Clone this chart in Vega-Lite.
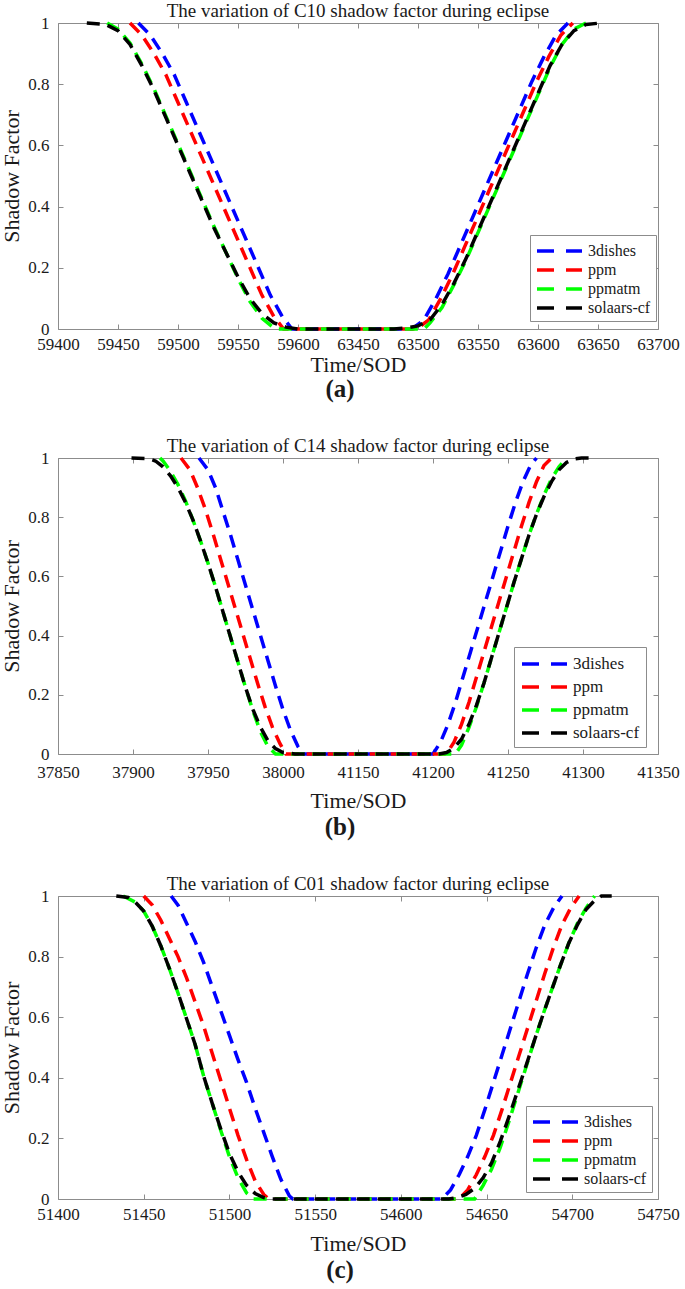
{
"$schema": "https://vega.github.io/schema/vega-lite/v6.json",
"background": "white",
"padding": {"left": 0, "top": 1, "right": 4, "bottom": 2},
"config": {
  "font": "Liberation Serif",
  "view": {"stroke": "#8c8c8c", "strokeWidth": 1},
  "axis": {"grid": false, "domain": false, "tickColor": "#8c8c8c", "tickSize": -5, "labelFont": "Liberation Serif", "labelFontSize": 17, "labelColor": "#1a1a1a", "titleFont": "Liberation Serif", "titleFontSize": 22, "titleFontWeight": "normal", "titleColor": "#1a1a1a", "labelFlush": false, "labelOverlap": false},
  "axisX": {"labelPadding": 12, "titlePadding": 2},
  "axisY": {"labelPadding": 14, "titlePadding": 4},
  "title": {"font": "Liberation Serif", "fontSize": 19, "fontWeight": "normal", "color": "#1a1a1a", "offset": -7},
  "legend": {"orient": "none", "title": null, "fillColor": "white", "strokeColor": "#8c8c8c", "padding": 4, "symbolType": "M-1,0H4", "symbolStrokeWidth": 3.5, "symbolDash": [17, 12], "symbolSize": 324, "labelFont": "Liberation Serif", "labelFontSize": 16, "labelColor": "#1a1a1a", "labelOffset": 31, "rowPadding": -1, "symbolOffset": 0}
},
"datasets": {
"a": [
{"m":"3dishes","t":59467,"s":1},{"m":"3dishes","t":59477,"s":0.96},{"m":"3dishes","t":59487,"s":0.9},{"m":"3dishes","t":59497,"s":0.83},{"m":"3dishes","t":59507,"s":0.74},{"m":"3dishes","t":59517,"s":0.65},{"m":"3dishes","t":59527,"s":0.56},{"m":"3dishes","t":59537,"s":0.47},{"m":"3dishes","t":59547,"s":0.38},{"m":"3dishes","t":59557,"s":0.29},{"m":"3dishes","t":59567,"s":0.2},{"m":"3dishes","t":59577,"s":0.11},{"m":"3dishes","t":59587,"s":0.04},{"m":"3dishes","t":59595,"s":0},{"m":"3dishes","t":63450,"s":0},{"m":"3dishes","t":63495,"s":0},{"m":"3dishes","t":63505,"s":0.03},{"m":"3dishes","t":63515,"s":0.1},{"m":"3dishes","t":63525,"s":0.18},{"m":"3dishes","t":63535,"s":0.27},{"m":"3dishes","t":63545,"s":0.36},{"m":"3dishes","t":63555,"s":0.45},{"m":"3dishes","t":63565,"s":0.54},{"m":"3dishes","t":63575,"s":0.63},{"m":"3dishes","t":63585,"s":0.72},{"m":"3dishes","t":63595,"s":0.81},{"m":"3dishes","t":63605,"s":0.89},{"m":"3dishes","t":63615,"s":0.96},{"m":"3dishes","t":63625,"s":1},
{"m":"ppm","t":59460,"s":1},{"m":"ppm","t":59470,"s":0.96},{"m":"ppm","t":59480,"s":0.9},{"m":"ppm","t":59490,"s":0.83},{"m":"ppm","t":59500,"s":0.74},{"m":"ppm","t":59510,"s":0.65},{"m":"ppm","t":59520,"s":0.56},{"m":"ppm","t":59530,"s":0.47},{"m":"ppm","t":59540,"s":0.38},{"m":"ppm","t":59550,"s":0.29},{"m":"ppm","t":59560,"s":0.2},{"m":"ppm","t":59570,"s":0.11},{"m":"ppm","t":59580,"s":0.04},{"m":"ppm","t":59588,"s":0},{"m":"ppm","t":63450,"s":0},{"m":"ppm","t":63499,"s":0},{"m":"ppm","t":63509,"s":0.03},{"m":"ppm","t":63519,"s":0.1},{"m":"ppm","t":63529,"s":0.18},{"m":"ppm","t":63539,"s":0.27},{"m":"ppm","t":63549,"s":0.36},{"m":"ppm","t":63559,"s":0.45},{"m":"ppm","t":63569,"s":0.54},{"m":"ppm","t":63579,"s":0.63},{"m":"ppm","t":63589,"s":0.72},{"m":"ppm","t":63599,"s":0.81},{"m":"ppm","t":63609,"s":0.89},{"m":"ppm","t":63619,"s":0.96},{"m":"ppm","t":63629,"s":1},
{"m":"ppmatm","t":59441,"s":1},{"m":"ppmatm","t":59450,"s":0.98},{"m":"ppmatm","t":59460,"s":0.935},{"m":"ppmatm","t":59470,"s":0.865},{"m":"ppmatm","t":59480,"s":0.785},{"m":"ppmatm","t":59490,"s":0.695},{"m":"ppmatm","t":59500,"s":0.605},{"m":"ppmatm","t":59510,"s":0.515},{"m":"ppmatm","t":59520,"s":0.425},{"m":"ppmatm","t":59530,"s":0.335},{"m":"ppmatm","t":59540,"s":0.25},{"m":"ppmatm","t":59550,"s":0.165},{"m":"ppmatm","t":59560,"s":0.09},{"m":"ppmatm","t":59570,"s":0.035},{"m":"ppmatm","t":59580,"s":0.003},{"m":"ppmatm","t":59583,"s":0},{"m":"ppmatm","t":63450,"s":0},{"m":"ppmatm","t":63505,"s":0},{"m":"ppmatm","t":63510,"s":0.02},{"m":"ppmatm","t":63520,"s":0.07},{"m":"ppmatm","t":63530,"s":0.145},{"m":"ppmatm","t":63540,"s":0.225},{"m":"ppmatm","t":63550,"s":0.315},{"m":"ppmatm","t":63560,"s":0.405},{"m":"ppmatm","t":63570,"s":0.495},{"m":"ppmatm","t":63580,"s":0.585},{"m":"ppmatm","t":63590,"s":0.675},{"m":"ppmatm","t":63600,"s":0.765},{"m":"ppmatm","t":63610,"s":0.855},{"m":"ppmatm","t":63620,"s":0.93},{"m":"ppmatm","t":63630,"s":0.98},{"m":"ppmatm","t":63640,"s":1},
{"m":"solaars-cf","t":59424,"s":1},{"m":"solaars-cf","t":59440,"s":0.995},{"m":"solaars-cf","t":59450,"s":0.975},{"m":"solaars-cf","t":59460,"s":0.93},{"m":"solaars-cf","t":59470,"s":0.86},{"m":"solaars-cf","t":59480,"s":0.78},{"m":"solaars-cf","t":59490,"s":0.69},{"m":"solaars-cf","t":59500,"s":0.6},{"m":"solaars-cf","t":59510,"s":0.51},{"m":"solaars-cf","t":59520,"s":0.42},{"m":"solaars-cf","t":59530,"s":0.33},{"m":"solaars-cf","t":59540,"s":0.25},{"m":"solaars-cf","t":59550,"s":0.17},{"m":"solaars-cf","t":59560,"s":0.1},{"m":"solaars-cf","t":59570,"s":0.05},{"m":"solaars-cf","t":59580,"s":0.02},{"m":"solaars-cf","t":59590,"s":0.006},{"m":"solaars-cf","t":59600,"s":0},{"m":"solaars-cf","t":63450,"s":0},{"m":"solaars-cf","t":63480,"s":0},{"m":"solaars-cf","t":63490,"s":0.003},{"m":"solaars-cf","t":63500,"s":0.01},{"m":"solaars-cf","t":63510,"s":0.03},{"m":"solaars-cf","t":63520,"s":0.08},{"m":"solaars-cf","t":63530,"s":0.15},{"m":"solaars-cf","t":63540,"s":0.23},{"m":"solaars-cf","t":63550,"s":0.32},{"m":"solaars-cf","t":63560,"s":0.41},{"m":"solaars-cf","t":63570,"s":0.5},{"m":"solaars-cf","t":63580,"s":0.59},{"m":"solaars-cf","t":63590,"s":0.68},{"m":"solaars-cf","t":63600,"s":0.77},{"m":"solaars-cf","t":63610,"s":0.86},{"m":"solaars-cf","t":63620,"s":0.93},{"m":"solaars-cf","t":63630,"s":0.975},{"m":"solaars-cf","t":63640,"s":0.995},{"m":"solaars-cf","t":63652,"s":1}
],
"b": [
{"m":"3dishes","t":37944,"s":1},{"m":"3dishes","t":37950,"s":0.96},{"m":"3dishes","t":37955,"s":0.9},{"m":"3dishes","t":37960,"s":0.82},{"m":"3dishes","t":37965,"s":0.74},{"m":"3dishes","t":37970,"s":0.655},{"m":"3dishes","t":37975,"s":0.57},{"m":"3dishes","t":37980,"s":0.485},{"m":"3dishes","t":37985,"s":0.4},{"m":"3dishes","t":37990,"s":0.315},{"m":"3dishes","t":37995,"s":0.23},{"m":"3dishes","t":38000,"s":0.15},{"m":"3dishes","t":38005,"s":0.08},{"m":"3dishes","t":38010,"s":0.025},{"m":"3dishes","t":38014,"s":0},{"m":"3dishes","t":41150,"s":0},{"m":"3dishes","t":41200,"s":0},{"m":"3dishes","t":41205,"s":0.04},{"m":"3dishes","t":41210,"s":0.1},{"m":"3dishes","t":41215,"s":0.175},{"m":"3dishes","t":41220,"s":0.26},{"m":"3dishes","t":41225,"s":0.345},{"m":"3dishes","t":41230,"s":0.43},{"m":"3dishes","t":41235,"s":0.515},{"m":"3dishes","t":41240,"s":0.6},{"m":"3dishes","t":41245,"s":0.685},{"m":"3dishes","t":41250,"s":0.77},{"m":"3dishes","t":41255,"s":0.85},{"m":"3dishes","t":41260,"s":0.92},{"m":"3dishes","t":41265,"s":0.975},{"m":"3dishes","t":41269,"s":1},
{"m":"ppm","t":37932,"s":1},{"m":"ppm","t":37938,"s":0.96},{"m":"ppm","t":37943,"s":0.9},{"m":"ppm","t":37948,"s":0.83},{"m":"ppm","t":37953,"s":0.75},{"m":"ppm","t":37958,"s":0.665},{"m":"ppm","t":37963,"s":0.58},{"m":"ppm","t":37968,"s":0.495},{"m":"ppm","t":37973,"s":0.41},{"m":"ppm","t":37978,"s":0.325},{"m":"ppm","t":37983,"s":0.24},{"m":"ppm","t":37988,"s":0.16},{"m":"ppm","t":37993,"s":0.09},{"m":"ppm","t":37998,"s":0.035},{"m":"ppm","t":38002,"s":0},{"m":"ppm","t":41150,"s":0},{"m":"ppm","t":41209,"s":0},{"m":"ppm","t":41214,"s":0.04},{"m":"ppm","t":41219,"s":0.1},{"m":"ppm","t":41224,"s":0.175},{"m":"ppm","t":41229,"s":0.26},{"m":"ppm","t":41234,"s":0.345},{"m":"ppm","t":41239,"s":0.43},{"m":"ppm","t":41244,"s":0.515},{"m":"ppm","t":41249,"s":0.6},{"m":"ppm","t":41254,"s":0.685},{"m":"ppm","t":41259,"s":0.77},{"m":"ppm","t":41264,"s":0.85},{"m":"ppm","t":41269,"s":0.92},{"m":"ppm","t":41274,"s":0.975},{"m":"ppm","t":41279,"s":1},
{"m":"ppmatm","t":37918,"s":1},{"m":"ppmatm","t":37920,"s":0.99},{"m":"ppmatm","t":37925,"s":0.955},{"m":"ppmatm","t":37930,"s":0.91},{"m":"ppmatm","t":37935,"s":0.855},{"m":"ppmatm","t":37940,"s":0.79},{"m":"ppmatm","t":37945,"s":0.72},{"m":"ppmatm","t":37950,"s":0.645},{"m":"ppmatm","t":37955,"s":0.565},{"m":"ppmatm","t":37960,"s":0.48},{"m":"ppmatm","t":37965,"s":0.395},{"m":"ppmatm","t":37970,"s":0.31},{"m":"ppmatm","t":37975,"s":0.225},{"m":"ppmatm","t":37980,"s":0.145},{"m":"ppmatm","t":37985,"s":0.075},{"m":"ppmatm","t":37990,"s":0.025},{"m":"ppmatm","t":37995,"s":0},{"m":"ppmatm","t":41150,"s":0},{"m":"ppmatm","t":41215,"s":0},{"m":"ppmatm","t":41219,"s":0.03},{"m":"ppmatm","t":41224,"s":0.09},{"m":"ppmatm","t":41229,"s":0.16},{"m":"ppmatm","t":41234,"s":0.24},{"m":"ppmatm","t":41239,"s":0.325},{"m":"ppmatm","t":41244,"s":0.41},{"m":"ppmatm","t":41249,"s":0.495},{"m":"ppmatm","t":41254,"s":0.58},{"m":"ppmatm","t":41259,"s":0.66},{"m":"ppmatm","t":41264,"s":0.74},{"m":"ppmatm","t":41269,"s":0.81},{"m":"ppmatm","t":41274,"s":0.875},{"m":"ppmatm","t":41279,"s":0.93},{"m":"ppmatm","t":41284,"s":0.97},{"m":"ppmatm","t":41289,"s":1},
{"m":"solaars-cf","t":37899,"s":1},{"m":"solaars-cf","t":37910,"s":0.998},{"m":"solaars-cf","t":37915,"s":0.99},{"m":"solaars-cf","t":37920,"s":0.97},{"m":"solaars-cf","t":37925,"s":0.94},{"m":"solaars-cf","t":37930,"s":0.9},{"m":"solaars-cf","t":37935,"s":0.85},{"m":"solaars-cf","t":37940,"s":0.79},{"m":"solaars-cf","t":37945,"s":0.72},{"m":"solaars-cf","t":37950,"s":0.645},{"m":"solaars-cf","t":37955,"s":0.565},{"m":"solaars-cf","t":37960,"s":0.48},{"m":"solaars-cf","t":37965,"s":0.395},{"m":"solaars-cf","t":37970,"s":0.31},{"m":"solaars-cf","t":37975,"s":0.225},{"m":"solaars-cf","t":37980,"s":0.15},{"m":"solaars-cf","t":37985,"s":0.09},{"m":"solaars-cf","t":37990,"s":0.045},{"m":"solaars-cf","t":37995,"s":0.018},{"m":"solaars-cf","t":38000,"s":0.005},{"m":"solaars-cf","t":38008,"s":0},{"m":"solaars-cf","t":41150,"s":0},{"m":"solaars-cf","t":41204,"s":0},{"m":"solaars-cf","t":41209,"s":0.005},{"m":"solaars-cf","t":41214,"s":0.02},{"m":"solaars-cf","t":41219,"s":0.05},{"m":"solaars-cf","t":41224,"s":0.1},{"m":"solaars-cf","t":41229,"s":0.165},{"m":"solaars-cf","t":41234,"s":0.24},{"m":"solaars-cf","t":41239,"s":0.325},{"m":"solaars-cf","t":41244,"s":0.41},{"m":"solaars-cf","t":41249,"s":0.495},{"m":"solaars-cf","t":41254,"s":0.58},{"m":"solaars-cf","t":41259,"s":0.66},{"m":"solaars-cf","t":41264,"s":0.74},{"m":"solaars-cf","t":41269,"s":0.81},{"m":"solaars-cf","t":41274,"s":0.87},{"m":"solaars-cf","t":41279,"s":0.92},{"m":"solaars-cf","t":41284,"s":0.96},{"m":"solaars-cf","t":41289,"s":0.985},{"m":"solaars-cf","t":41294,"s":0.997},{"m":"solaars-cf","t":41299,"s":1},{"m":"solaars-cf","t":41307,"s":1}
],
"c": [
{"m":"3dishes","t":51466,"s":1},{"m":"3dishes","t":51470,"s":0.97},{"m":"3dishes","t":51475,"s":0.91},{"m":"3dishes","t":51480,"s":0.85},{"m":"3dishes","t":51485,"s":0.78},{"m":"3dishes","t":51490,"s":0.7},{"m":"3dishes","t":51495,"s":0.62},{"m":"3dishes","t":51500,"s":0.54},{"m":"3dishes","t":51505,"s":0.46},{"m":"3dishes","t":51510,"s":0.385},{"m":"3dishes","t":51515,"s":0.3},{"m":"3dishes","t":51520,"s":0.22},{"m":"3dishes","t":51525,"s":0.14},{"m":"3dishes","t":51530,"s":0.065},{"m":"3dishes","t":51535,"s":0.01},{"m":"3dishes","t":51537,"s":0},{"m":"3dishes","t":54600,"s":0},{"m":"3dishes","t":54624,"s":0},{"m":"3dishes","t":54629,"s":0.03},{"m":"3dishes","t":54634,"s":0.08},{"m":"3dishes","t":54639,"s":0.14},{"m":"3dishes","t":54644,"s":0.21},{"m":"3dishes","t":54649,"s":0.295},{"m":"3dishes","t":54654,"s":0.385},{"m":"3dishes","t":54659,"s":0.475},{"m":"3dishes","t":54664,"s":0.565},{"m":"3dishes","t":54669,"s":0.655},{"m":"3dishes","t":54674,"s":0.745},{"m":"3dishes","t":54679,"s":0.83},{"m":"3dishes","t":54684,"s":0.905},{"m":"3dishes","t":54689,"s":0.96},{"m":"3dishes","t":54694,"s":1},
{"m":"ppm","t":51450,"s":1},{"m":"ppm","t":51455,"s":0.97},{"m":"ppm","t":51460,"s":0.92},{"m":"ppm","t":51465,"s":0.86},{"m":"ppm","t":51470,"s":0.8},{"m":"ppm","t":51475,"s":0.73},{"m":"ppm","t":51480,"s":0.65},{"m":"ppm","t":51485,"s":0.57},{"m":"ppm","t":51490,"s":0.48},{"m":"ppm","t":51495,"s":0.39},{"m":"ppm","t":51500,"s":0.3},{"m":"ppm","t":51505,"s":0.21},{"m":"ppm","t":51510,"s":0.13},{"m":"ppm","t":51515,"s":0.06},{"m":"ppm","t":51520,"s":0.015},{"m":"ppm","t":51523,"s":0},{"m":"ppm","t":54600,"s":0},{"m":"ppm","t":54634,"s":0},{"m":"ppm","t":54639,"s":0.03},{"m":"ppm","t":54644,"s":0.08},{"m":"ppm","t":54649,"s":0.14},{"m":"ppm","t":54654,"s":0.21},{"m":"ppm","t":54659,"s":0.295},{"m":"ppm","t":54664,"s":0.385},{"m":"ppm","t":54669,"s":0.475},{"m":"ppm","t":54674,"s":0.565},{"m":"ppm","t":54679,"s":0.655},{"m":"ppm","t":54684,"s":0.745},{"m":"ppm","t":54689,"s":0.83},{"m":"ppm","t":54694,"s":0.905},{"m":"ppm","t":54699,"s":0.96},{"m":"ppm","t":54704,"s":1},
{"m":"ppmatm","t":51438,"s":1},{"m":"ppmatm","t":51445,"s":0.98},{"m":"ppmatm","t":51450,"s":0.95},{"m":"ppmatm","t":51455,"s":0.9},{"m":"ppmatm","t":51460,"s":0.835},{"m":"ppmatm","t":51465,"s":0.76},{"m":"ppmatm","t":51470,"s":0.68},{"m":"ppmatm","t":51475,"s":0.595},{"m":"ppmatm","t":51480,"s":0.51},{"m":"ppmatm","t":51485,"s":0.405},{"m":"ppmatm","t":51490,"s":0.315},{"m":"ppmatm","t":51495,"s":0.225},{"m":"ppmatm","t":51500,"s":0.14},{"m":"ppmatm","t":51505,"s":0.07},{"m":"ppmatm","t":51510,"s":0.02},{"m":"ppmatm","t":51514,"s":0},{"m":"ppmatm","t":54600,"s":0},{"m":"ppmatm","t":54643,"s":0},{"m":"ppmatm","t":54648,"s":0.045},{"m":"ppmatm","t":54653,"s":0.1},{"m":"ppmatm","t":54658,"s":0.17},{"m":"ppmatm","t":54663,"s":0.255},{"m":"ppmatm","t":54668,"s":0.345},{"m":"ppmatm","t":54673,"s":0.435},{"m":"ppmatm","t":54678,"s":0.525},{"m":"ppmatm","t":54683,"s":0.61},{"m":"ppmatm","t":54688,"s":0.69},{"m":"ppmatm","t":54693,"s":0.77},{"m":"ppmatm","t":54698,"s":0.845},{"m":"ppmatm","t":54703,"s":0.91},{"m":"ppmatm","t":54708,"s":0.96},{"m":"ppmatm","t":54713,"s":1},
{"m":"solaars-cf","t":51434,"s":1},{"m":"solaars-cf","t":51441,"s":0.995},{"m":"solaars-cf","t":51445,"s":0.98},{"m":"solaars-cf","t":51450,"s":0.95},{"m":"solaars-cf","t":51455,"s":0.9},{"m":"solaars-cf","t":51460,"s":0.835},{"m":"solaars-cf","t":51465,"s":0.76},{"m":"solaars-cf","t":51470,"s":0.68},{"m":"solaars-cf","t":51475,"s":0.595},{"m":"solaars-cf","t":51480,"s":0.51},{"m":"solaars-cf","t":51485,"s":0.405},{"m":"solaars-cf","t":51490,"s":0.315},{"m":"solaars-cf","t":51495,"s":0.23},{"m":"solaars-cf","t":51500,"s":0.15},{"m":"solaars-cf","t":51505,"s":0.09},{"m":"solaars-cf","t":51510,"s":0.045},{"m":"solaars-cf","t":51515,"s":0.018},{"m":"solaars-cf","t":51520,"s":0.005},{"m":"solaars-cf","t":51525,"s":0},{"m":"solaars-cf","t":54600,"s":0},{"m":"solaars-cf","t":54628,"s":0},{"m":"solaars-cf","t":54633,"s":0.005},{"m":"solaars-cf","t":54638,"s":0.015},{"m":"solaars-cf","t":54643,"s":0.035},{"m":"solaars-cf","t":54648,"s":0.07},{"m":"solaars-cf","t":54653,"s":0.12},{"m":"solaars-cf","t":54658,"s":0.19},{"m":"solaars-cf","t":54663,"s":0.27},{"m":"solaars-cf","t":54668,"s":0.355},{"m":"solaars-cf","t":54673,"s":0.44},{"m":"solaars-cf","t":54678,"s":0.525},{"m":"solaars-cf","t":54683,"s":0.61},{"m":"solaars-cf","t":54688,"s":0.69},{"m":"solaars-cf","t":54693,"s":0.77},{"m":"solaars-cf","t":54698,"s":0.845},{"m":"solaars-cf","t":54703,"s":0.905},{"m":"solaars-cf","t":54708,"s":0.955},{"m":"solaars-cf","t":54713,"s":0.985},{"m":"solaars-cf","t":54717,"s":1},{"m":"solaars-cf","t":54723,"s":1}
]
},
"spacing": 34,
"resolve": {"scale": {"x": "independent", "y": "independent", "color": "independent"}, "legend": {"color": "independent"}},
"vconcat": [
{
 "title": {"text": "(a)", "orient": "bottom", "anchor": "middle", "font": "Liberation Serif", "fontSize": 25, "fontWeight": "bold", "offset": 1},
 "vconcat": [{
  "title": {"text": "The variation of C10 shadow factor during eclipse", "font": "Liberation Serif"},
  "width": 600, "height": 306,
  "data": {"name": "a"},
  "layer": [
   {"mark": {"type": "line", "strokeWidth": 3.5, "strokeDash": [13, 8]},
    "encoding": {
     "x": {"field": "t", "type": "quantitative", "scale": {"domain": [59400, 59625, 63425, 63700], "range": [0, 270, 270, 600], "nice": false, "zero": false}, "axis": {"values": [59400,59450,59500,59550,59600,63450,63500,63550,63600,63650,63700], "format": "d", "title": "Time/SOD"}},
     "y": {"field": "s", "type": "quantitative", "scale": {"domain": [0, 1], "nice": false}, "axis": {"values": [0,0.2,0.4,0.6,0.8,1], "format": "~g", "title": "Shadow Factor"}},
     "color": {"field": "m", "type": "nominal", "scale": {"domain": ["3dishes","ppm","ppmatm","solaars-cf"], "range": ["#0000ff","#ff0000","#00ff00","#000000"]}, "legend": {"legendX": 472, "legendY": 212, "padding": 5, "labelFont": "Liberation Serif", "encode": {"labels": {"update": {"font": {"value": "Liberation Serif"}}}}}}
    }},
   {"mark": {"type": "point", "opacity": 0},
    "encoding": {
     "x": {"field": "t", "type": "quantitative", "axis": {"orient": "top", "values": [59400,59450,59500,59550,59600,63450,63500,63550,63600,63650,63700], "labels": false, "title": null}},
     "y": {"field": "s", "type": "quantitative", "axis": {"orient": "right", "values": [0,0.2,0.4,0.6,0.8,1], "labels": false, "title": null}}
    }}
  ],
  "resolve": {"axis": {"x": "independent", "y": "independent"}}
 }]
},
{
 "title": {"text": "(b)", "orient": "bottom", "anchor": "middle", "font": "Liberation Serif", "fontSize": 25, "fontWeight": "bold", "offset": 3},
 "vconcat": [{
  "title": {"text": "The variation of C14 shadow factor during eclipse", "font": "Liberation Serif"},
  "width": 600, "height": 296,
  "data": {"name": "b"},
  "layer": [
   {"mark": {"type": "line", "strokeWidth": 3.5, "strokeDash": [13, 8]},
    "encoding": {
     "x": {"field": "t", "type": "quantitative", "scale": {"domain": [37850, 38025, 41125, 41350], "range": [0, 262.5, 262.5, 600], "nice": false, "zero": false}, "axis": {"values": [37850,37900,37950,38000,41150,41200,41250,41300,41350], "format": "d", "title": "Time/SOD", "labelPadding": 15, "titlePadding": 10}},
     "y": {"field": "s", "type": "quantitative", "scale": {"domain": [0, 1], "nice": false}, "axis": {"values": [0,0.2,0.4,0.6,0.8,1], "format": "~g", "title": "Shadow Factor"}},
     "color": {"field": "m", "type": "nominal", "scale": {"domain": ["3dishes","ppm","ppmatm","solaars-cf"], "range": ["#0000ff","#ff0000","#00ff00","#000000"]}, "legend": {"legendX": 456, "legendY": 189, "rowPadding": 4, "padding": 6, "labelFontSize": 17, "labelFont": "Liberation Serif", "encode": {"labels": {"update": {"font": {"value": "Liberation Serif"}}}}}}
    }},
   {"mark": {"type": "point", "opacity": 0},
    "encoding": {
     "x": {"field": "t", "type": "quantitative", "axis": {"orient": "top", "values": [37850,37900,37950,38000,41150,41200,41250,41300,41350], "labels": false, "title": null}},
     "y": {"field": "s", "type": "quantitative", "axis": {"orient": "right", "values": [0,0.2,0.4,0.6,0.8,1], "labels": false, "title": null}}
    }}
  ],
  "resolve": {"axis": {"x": "independent", "y": "independent"}}
 }]
},
{
 "title": {"text": "(c)", "orient": "bottom", "anchor": "middle", "font": "Liberation Serif", "fontSize": 25, "fontWeight": "bold", "offset": 3},
 "vconcat": [{
  "title": {"text": "The variation of C01 shadow factor during eclipse", "font": "Liberation Serif"},
  "width": 600, "height": 303,
  "data": {"name": "c"},
  "layer": [
   {"mark": {"type": "line", "strokeWidth": 3.5, "strokeDash": [13, 8]},
    "encoding": {
     "x": {"field": "t", "type": "quantitative", "scale": {"domain": [51400, 51575, 54575, 54750], "range": [0, 300, 300, 600], "nice": false, "zero": false}, "axis": {"values": [51400,51450,51500,51550,54600,54650,54700,54750], "format": "d", "title": "Time/SOD", "titlePadding": 11}},
     "y": {"field": "s", "type": "quantitative", "scale": {"domain": [0, 1], "nice": false}, "axis": {"values": [0,0.2,0.4,0.6,0.8,1], "format": "~g", "title": "Shadow Factor"}},
     "color": {"field": "m", "type": "nominal", "scale": {"domain": ["3dishes","ppm","ppmatm","solaars-cf"], "range": ["#0000ff","#ff0000","#00ff00","#000000"]}, "legend": {"legendX": 468, "legendY": 210, "padding": 5, "labelFont": "Liberation Serif", "encode": {"labels": {"update": {"font": {"value": "Liberation Serif"}}}}}}
    }},
   {"mark": {"type": "point", "opacity": 0},
    "encoding": {
     "x": {"field": "t", "type": "quantitative", "axis": {"orient": "top", "values": [51400,51450,51500,51550,54600,54650,54700,54750], "labels": false, "title": null}},
     "y": {"field": "s", "type": "quantitative", "axis": {"orient": "right", "values": [0,0.2,0.4,0.6,0.8,1], "labels": false, "title": null}}
    }}
  ],
  "resolve": {"axis": {"x": "independent", "y": "independent"}}
 }]
}
]
}
